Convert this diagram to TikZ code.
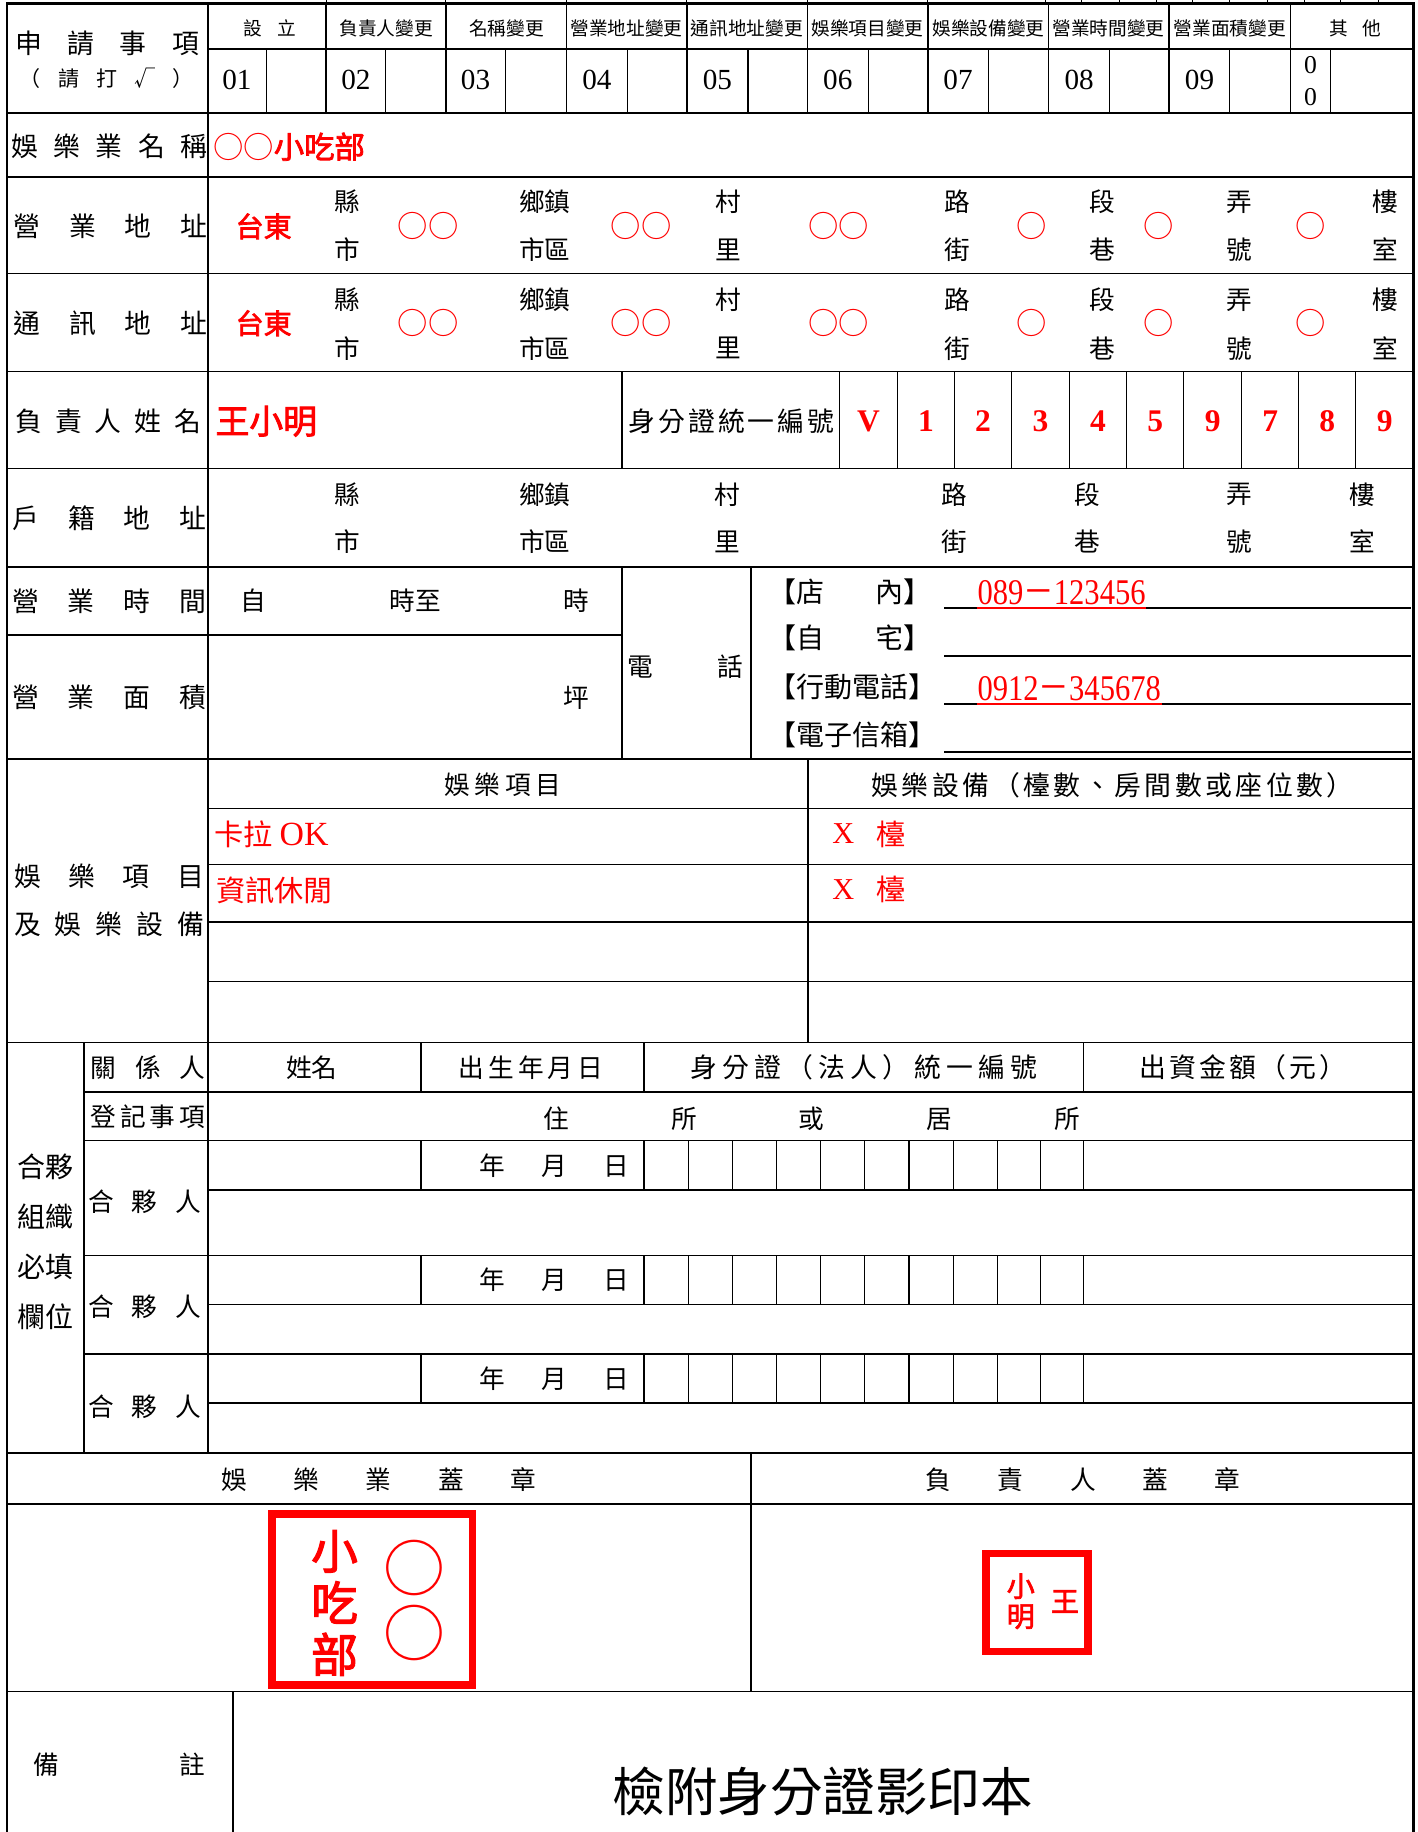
\documentclass[tikz,border=0pt]{standalone}
\usepackage{fontspec}
\usepackage{graphicx}
\setmainfont{Noto Sans CJK TC}
\newfontfamily\tnr{Liberation Serif}
\newfontfamily\cjkbold[FakeBold=2.5]{Noto Sans CJK TC}
\makeatletter
\newcommand{\spreadout}[2]{\hbox to #1{\let\sgap\relax\@tfor\spch:=#2\do{\sgap\spch\let\sgap\hfil}}}
\makeatother
\newcommand{\fsz}[1]{\fontsize{#1}{#1}\selectfont}

\tikzset{every picture/.style={line width=1.4pt}}
\tikzset{
  frame/.style={line width=2.4pt},
  rule/.style={line width=1.4pt},
  hair/.style={line width=0.9pt},
  seal/.style={draw=red, line width=6.6pt},
  lbl/.style={inner sep=0pt, font=\fsz{23}},
  txt/.style={inner sep=0pt, font=\fsz{22}},
  hd/.style={inner sep=0pt, font=\fsz{16}},
  num/.style={inner sep=0pt, font=\tnr\fsz{25}},
  fillin/.style={inner sep=0pt, text=red},
}

\begin{document}
\begin{tikzpicture}[x=1pt,y=1pt,yscale=-1,xscale=1]
\useasboundingbox (0,0) rectangle (1215,1570);

% frame and ticks
\draw[frame] (6,1570) -- (6,3) -- (1211.5,3) -- (1211.5,1570);
\draw[hair] (279.5,0) -- (279.5,3) (382,0) -- (382,3) (485.5,0) -- (485.5,3) (588.5,0) -- (588.5,3) (692,0) -- (692,3) (795,0) -- (795,3) (896,0) -- (896,3) (927,0) -- (927,3) (959,0) -- (959,3) (991,0) -- (991,3) (1022,0) -- (1022,3) (1054,0) -- (1054,3) (1086,0) -- (1086,3) (1118,0) -- (1118,3) (1149,0) -- (1149,3) (1181,0) -- (1181,3);

% horizontal rules
\draw[rule] (178,42) -- (1211.5,42);
\draw[rule] (6,97) -- (1211.5,97);
\draw[rule] (6,151.5) -- (1211.5,151.5);
\draw[rule] (6,234.5) -- (1211.5,234.5);
\draw[rule] (6,318.5) -- (1211.5,318.5);
\draw[rule] (6,401.5) -- (1211.5,401.5);
\draw[rule] (6,486) -- (1211.5,486);
\draw[rule] (6,544) -- (533,544);
\draw[rule] (6,650.5) -- (1211.5,650.5);
\draw[rule] (178,693) -- (1211.5,693);
\draw[rule] (178,741) -- (1211.5,741);
\draw[rule] (178,790) -- (1211.5,790);
\draw[rule] (178,841) -- (1211.5,841);
\draw[rule] (6,893.5) -- (1211.5,893.5);
\draw[rule] (72,936) -- (1211.5,936);
\draw[rule] (72,977.5) -- (1211.5,977.5);
\draw[rule] (178,1020) -- (1211.5,1020);
\draw[rule] (72,1076) -- (1211.5,1076);
\draw[rule] (178,1118) -- (1211.5,1118);
\draw[rule] (72,1160.5) -- (1211.5,1160.5);
\draw[rule] (178,1202.5) -- (1211.5,1202.5);
\draw[rule] (6,1245) -- (1211.5,1245);
\draw[rule] (6,1289) -- (1211.5,1289);
\draw[rule] (6,1449.5) -- (1211.5,1449.5);

% vertical rules
\draw[rule] (178,3) -- (178,1245);
\draw[rule] (72,893.5) -- (72,1245);
\draw[rule] (279.5,3) -- (279.5,97) (382,3) -- (382,97) (485.5,3) -- (485.5,97) (588.5,3) -- (588.5,97) (692,3) -- (692,97) (795,3) -- (795,97) (898.5,3) -- (898.5,97) (1002,3) -- (1002,97) (1106,3) -- (1106,97);
\draw[hair] (228,42) -- (228,97) (330.5,42) -- (330.5,97) (433,42) -- (433,97) (537.5,42) -- (537.5,97) (641,42) -- (641,97) (744,42) -- (744,97) (847,42) -- (847,97) (951,42) -- (951,97) (1054,42) -- (1054,97) (1140,42) -- (1140,97);
\draw[rule] (533,318.5) -- (533,401.5) (719.5,318.5) -- (719.5,401.5);
\draw[hair] (769,318.5) -- (769,401.5) (818,318.5) -- (818,401.5) (867,318.5) -- (867,401.5) (916.5,318.5) -- (916.5,401.5) (965.5,318.5) -- (965.5,401.5) (1014.5,318.5) -- (1014.5,401.5) (1064,318.5) -- (1064,401.5) (1113,318.5) -- (1113,401.5) (1162,318.5) -- (1162,401.5);
\draw[rule] (533,486) -- (533,650.5) (643.5,486) -- (643.5,650.5);
\draw[rule] (692.5,650.5) -- (692.5,893.5);
\draw[rule] (361,893.5) -- (361,936) (552,893.5) -- (552,936) (928.5,893.5) -- (928.5,936);
\draw[rule] (361,977.5) -- (361,1020) (552,977.5) -- (552,1020) (928.5,977.5) -- (928.5,1020);
\draw[hair] (590,977.5) -- (590,1020) (628,977.5) -- (628,1020) (665.5,977.5) -- (665.5,1020) (703.5,977.5) -- (703.5,1020) (741,977.5) -- (741,1020) (779,977.5) -- (779,1020) (817,977.5) -- (817,1020) (854.5,977.5) -- (854.5,1020) (892,977.5) -- (892,1020);
\draw[rule] (361,1076) -- (361,1118) (552,1076) -- (552,1118) (928.5,1076) -- (928.5,1118);
\draw[hair] (590,1076) -- (590,1118) (628,1076) -- (628,1118) (665.5,1076) -- (665.5,1118) (703.5,1076) -- (703.5,1118) (741,1076) -- (741,1118) (779,1076) -- (779,1118) (817,1076) -- (817,1118) (854.5,1076) -- (854.5,1118) (892,1076) -- (892,1118);
\draw[rule] (361,1160.5) -- (361,1202.5) (552,1160.5) -- (552,1202.5) (928.5,1160.5) -- (928.5,1202.5);
\draw[hair] (590,1160.5) -- (590,1202.5) (628,1160.5) -- (628,1202.5) (665.5,1160.5) -- (665.5,1202.5) (703.5,1160.5) -- (703.5,1202.5) (741,1160.5) -- (741,1202.5) (779,1160.5) -- (779,1202.5) (817,1160.5) -- (817,1202.5) (854.5,1160.5) -- (854.5,1202.5) (892,1160.5) -- (892,1202.5);
\draw[rule] (643.5,1245) -- (643.5,1449.5);
\draw[rule] (199.5,1449.5) -- (199.5,1570);

% phone lines
\draw[rule] (809,521.3) -- (1209,521.3) (809,562) -- (1209,562) (809,603.5) -- (1209,603.5) (809,644.6) -- (1209,644.6);

% row labels
\node[lbl] (apply) at (92,37) {\spreadout{157pt}{申請事項}};
\node[lbl, font=\fsz{18}] (applyhint) at (91.5,67) {\spreadout{149pt}{（請打√）}};
\node[lbl] (bizname) at (93.6,125.7) {\spreadout{168pt}{娛樂業名稱}};
\node[lbl] (bizaddr) at (94.8,194) {\spreadout{166pt}{營業地址}};
\node[lbl] (mailaddr) at (94.8,277) {\spreadout{166pt}{通訊地址}};
\node[lbl] (owner) at (92.7,361) {\spreadout{159pt}{負責人姓名}};
\node[lbl] (homeaddr) at (93.7,444) {\spreadout{166pt}{戶籍地址}};
\node[lbl] (hours) at (93.5,515) {\spreadout{166pt}{營業時間}};
\node[lbl] (area) at (93.5,598) {\spreadout{166pt}{營業面積}};
\node[lbl] (itemsa) at (93.5,751) {\spreadout{163pt}{娛樂項目}};
\node[lbl] (itemsb) at (93.5,792) {\spreadout{163pt}{及娛樂設備}};

% application types
\node[hd] (cat1) at (231,24) {\spreadout{45pt}{設立}};
\node[hd] (cat2) at (331,24) {負責人變更};
\node[hd] (cat3) at (434,24) {名稱變更};
\node[hd] (cat4) at (537,24) {營業地址變更};
\node[hd] (cat5) at (640,24) {通訊地址變更};
\node[hd] (cat6) at (743.5,24) {娛樂項目變更};
\node[hd] (cat7) at (847,24) {娛樂設備變更};
\node[hd] (cat8) at (950,24) {營業時間變更};
\node[hd] (cat9) at (1054,24) {營業面積變更};
\node[hd] (cat10) at (1161.5,24) {\spreadout{44pt}{其他}};
\node[num] (no01) at (203,68.5) {01};
\node[num] (no02) at (305,68.5) {02};
\node[num] (no03) at (407.5,68.5) {03};
\node[num] (no04) at (511.5,68.5) {04};
\node[num] (no05) at (614.8,68.5) {05};
\node[num] (no06) at (718,68.5) {06};
\node[num] (no07) at (821,68.5) {07};
\node[num] (no08) at (924.8,68.5) {08};
\node[num] (no09) at (1028,68.5) {09};
\node[num, font=\tnr\fontsize{22}{27}\selectfont, align=center] (no00) at (1123,69.5) {0\\0};

% business name
\node[fillin, font=\fsz{26}, anchor=west] (biznameval) at (182,125.7) {○○{\cjkbold 小吃部}};

% business address
\node[fillin, font=\cjkbold\fsz{24}] (bizcity) at (226,194) {台東};
\node[txt] (bizk1) at (298,173) {縣};
\node[txt] (bizk2) at (298,214) {市};
\node[fillin, font=\fsz{26}] (bizv1) at (367,194) {○○};
\node[txt] (bizk3) at (467,173) {鄉鎮};
\node[txt] (bizk4) at (467,214) {市區};
\node[fillin, font=\fsz{26}] (bizv2) at (549.5,194) {○○};
\node[txt] (bizk5) at (624,173) {村};
\node[txt] (bizk6) at (624,214) {里};
\node[fillin, font=\fsz{26}] (bizv3) at (719,194) {○○};
\node[txt] (bizk7) at (820,173) {路};
\node[txt] (bizk8) at (820,214) {街};
\node[fillin, font=\fsz{26}] (bizv4) at (884,194) {○};
\node[txt] (bizk9) at (945,173) {段};
\node[txt] (bizk10) at (945,214) {巷};
\node[fillin, font=\fsz{26}] (bizv5) at (993,194) {○};
\node[txt] (bizk11) at (1062,173) {弄};
\node[txt] (bizk12) at (1062,214) {號};
\node[fillin, font=\fsz{26}] (bizv6) at (1123,194) {○};
\node[txt] (bizk13) at (1187,173) {樓};
\node[txt] (bizk14) at (1187,214) {室};

% mailing address
\node[fillin, font=\cjkbold\fsz{24}] (mailcity) at (226,277) {台東};
\node[txt] (mailk1) at (298,257) {縣};
\node[txt] (mailk2) at (298,298.5) {市};
\node[fillin, font=\fsz{26}] (mailv1) at (367,277) {○○};
\node[txt] (mailk3) at (467,257) {鄉鎮};
\node[txt] (mailk4) at (467,298.5) {市區};
\node[fillin, font=\fsz{26}] (mailv2) at (549.5,277) {○○};
\node[txt] (mailk5) at (624,257) {村};
\node[txt] (mailk6) at (624,298.5) {里};
\node[fillin, font=\fsz{26}] (mailv3) at (719,277) {○○};
\node[txt] (mailk7) at (820,257) {路};
\node[txt] (mailk8) at (820,298.5) {街};
\node[fillin, font=\fsz{26}] (mailv4) at (884,277) {○};
\node[txt] (mailk9) at (945,257) {段};
\node[txt] (mailk10) at (945,298.5) {巷};
\node[fillin, font=\fsz{26}] (mailv5) at (993,277) {○};
\node[txt] (mailk11) at (1062,257) {弄};
\node[txt] (mailk12) at (1062,298.5) {號};
\node[fillin, font=\fsz{26}] (mailv6) at (1123,277) {○};
\node[txt] (mailk13) at (1187,257) {樓};
\node[txt] (mailk14) at (1187,298.5) {室};

% owner and id number
\node[fillin, font=\cjkbold\fsz{29}, anchor=west] (ownerval) at (184,361) {王小明};
\node[lbl] (idlabel) at (627,361) {\spreadout{176pt}{身分證統一編號}};
\node[fillin, font=\tnr\bfseries\fsz{27}] (id1) at (744.25,361) {V};
\node[fillin, font=\tnr\bfseries\fsz{27}] (id2) at (793.5,361) {1};
\node[fillin, font=\tnr\bfseries\fsz{27}] (id3) at (842.5,361) {2};
\node[fillin, font=\tnr\bfseries\fsz{27}] (id4) at (891.75,361) {3};
\node[fillin, font=\tnr\bfseries\fsz{27}] (id5) at (941,361) {4};
\node[fillin, font=\tnr\bfseries\fsz{27}] (id6) at (990,361) {5};
\node[fillin, font=\tnr\bfseries\fsz{27}] (id7) at (1039.25,361) {9};
\node[fillin, font=\tnr\bfseries\fsz{27}] (id8) at (1088.5,361) {7};
\node[fillin, font=\tnr\bfseries\fsz{27}] (id9) at (1137.5,361) {8};
\node[fillin, font=\tnr\bfseries\fsz{27}] (id10) at (1186.75,361) {9};

% household address
\node[txt] (homek1) at (298,424) {縣};
\node[txt] (homek2) at (298,464) {市};
\node[txt] (homek3) at (467,424) {鄉鎮};
\node[txt] (homek4) at (467,464) {市區};
\node[txt] (homek5) at (623.6,424) {村};
\node[txt] (homek6) at (623.6,464) {里};
\node[txt] (homek7) at (818,424) {路};
\node[txt] (homek8) at (818,464) {街};
\node[txt] (homek9) at (932,424) {段};
\node[txt] (homek10) at (932,464) {巷};
\node[txt] (homek11) at (1061.7,424) {弄};
\node[txt] (homek12) at (1061.7,464) {號};
\node[txt] (homek13) at (1167.6,424) {樓};
\node[txt] (homek14) at (1167.6,464) {室};

% hours, area, phone
\node[txt] (hrfrom) at (217,515) {自};
\node[txt] (hrto) at (355.8,515) {時至};
\node[txt] (hrend) at (493.5,515) {時};
\node[txt] (areaunit) at (493.5,598) {坪};
\node[txt] (phone) at (587,571) {\spreadout{99pt}{電話}};
\node[txt, font=\fsz{24}] (telshop) at (728.6,507) {\spreadout{140pt}{{【店}{內】}}};
\node[txt, font=\fsz{24}] (telhome) at (728.6,547) {\spreadout{140pt}{{【自}{宅】}}};
\node[txt, font=\fsz{24}] (telmob) at (728.6,588.4) {\spreadout{140pt}{【行動電話】}};
\node[txt, font=\fsz{24}] (telmail) at (728.6,630) {\spreadout{140pt}{【電子信箱】}};
\node[fillin, font=\tnr\fsz{31}, anchor=base west] (shopno) at (837,518) {\scalebox{0.845}[1]{089{\rmfamily －}123456}};
\node[fillin, font=\tnr\fsz{31}, anchor=base west] (mobno) at (837,600.4) {\scalebox{0.845}[1]{0912{\rmfamily －}345678}};
\coordinate (ulshop) at (837,521.3);
\coordinate (ulmob) at (837,603.5);
\draw[red, line width=1.6pt] (ulshop) -- (ulshop -| shopno.east);
\draw[red, line width=1.6pt] (ulmob) -- (ulmob -| mobno.east);

% entertainment items
\node[txt] (itemhead) at (431,672.6) {\spreadout{100pt}{娛樂項目}};
\node[txt, font=\fsz{23}] (equiphead) at (953.5,672.6) {\spreadout{413pt}{娛樂設備（檯數、房間數或座位數）}};
\node[fillin, font=\fsz{25}, anchor=west] (item1) at (183,714.7) {卡拉\hspace{6pt}{\tnr\fsz{29}OK}};
\node[fillin, font=\fsz{25}, anchor=west] (item2) at (184.7,762.6) {資訊休閒};
\node[fillin, font=\tnr\fsz{26}] (equip1x) at (722.7,714.7) {X};
\node[fillin, font=\fsz{25}] (equip1u) at (763.9,714.7) {檯};
\node[fillin, font=\tnr\fsz{26}] (equip2x) at (722.7,762.6) {X};
\node[fillin, font=\fsz{25}] (equip2u) at (763.9,762.6) {檯};

% partnership
\node[lbl, font=\fsz{24}] (pgroup1) at (39,999.7) {合夥};
\node[lbl, font=\fsz{24}] (pgroup2) at (39,1042.5) {組織};
\node[lbl, font=\fsz{24}] (pgroup3) at (39,1086) {必填};
\node[lbl, font=\fsz{24}] (pgroup4) at (39,1128.2) {欄位};
\node[txt] (relation) at (126.8,914.5) {\spreadout{98pt}{關係人}};
\node[txt] (register) at (126.8,957.4) {\spreadout{98pt}{登記事項}};
\node[txt] (pname) at (267.2,915) {姓名};
\node[txt] (pbirth) at (455,915) {\spreadout{124pt}{出生年月日}};
\node[txt, font=\fsz{23}] (pid) at (740.6,915) {\spreadout{297pt}{身分證（法人）統一編號}};
\node[txt, font=\fsz{23}] (pfund) at (1065.4,915) {\spreadout{177pt}{出資金額（元）}};
\node[txt] (paddr) at (695.7,958.3) {\spreadout{460pt}{住所或居所}};
\node[txt] (partner1) at (124,1029.6) {\spreadout{97pt}{合夥人}};
\node[txt] (partner2) at (124,1119.6) {\spreadout{97pt}{合夥人}};
\node[txt] (partner3) at (124,1205.3) {\spreadout{97pt}{合夥人}};
\node[txt] (pdate1) at (475.3,998.8) {\spreadout{128pt}{年月日}};
\node[txt] (pdate2) at (475.3,1097) {\spreadout{128pt}{年月日}};
\node[txt] (pdate3) at (475.3,1181.5) {\spreadout{128pt}{年月日}};

% seals
\node[txt] (bizseal) at (324.6,1267.6) {\spreadout{270pt}{娛樂業蓋章}};
\node[txt] (ownerseal) at (928.2,1267.6) {\spreadout{270pt}{負責人蓋章}};
\draw[seal] (233.3,1297.2) rectangle (405,1444);
\node[fillin, font=\cjkbold\fontsize{40}{44.3}\selectfont, align=center] (seal1txt) at (286.7,1373.8) {小\\吃\\部};
\node[fillin, font=\fontsize{53}{55.2}\selectfont, align=center] (seal1ring) at (355,1371.5) {○\\○};
\draw[seal] (844.7,1331.3) rectangle (932.4,1415.4);
\node[fillin, font=\cjkbold\fontsize{24}{25.7}\selectfont, align=center] (seal2a) at (874.8,1372.3) {小\\明};
\node[fillin, font=\cjkbold\fsz{24}] (seal2b) at (912.6,1372.4) {王};

% remarks
\node[txt] (remark) at (102,1512.4) {\spreadout{147pt}{備註}};
\node[txt, font=\fsz{45}] (remarkval) at (705,1535) {檢附身分證影印本};

\end{tikzpicture}
\end{document}
